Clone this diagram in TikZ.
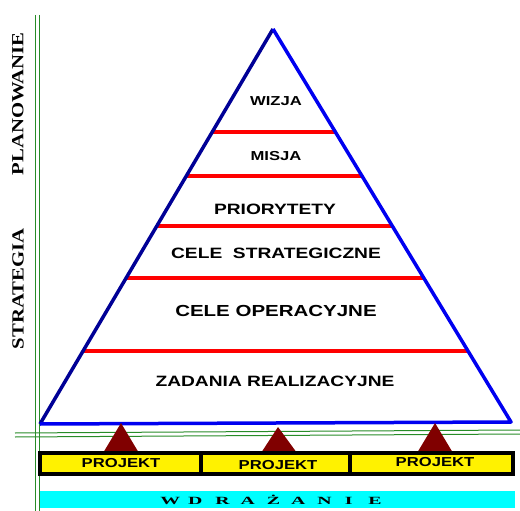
\documentclass[tikz,border=0pt]{standalone}
\usepackage{fontspec}
\setmainfont{Liberation Serif}
\setsansfont{Liberation Sans}
\newfontfamily\widesans[FakeStretch=1.28]{Liberation Sans Bold}
\newfontfamily\wideserif[FakeStretch=1.22]{Liberation Serif Bold}
\newfontfamily\xwideserif[FakeStretch=1.8]{Liberation Serif Bold}
\definecolor{navyb}{RGB}{0,0,150}
\definecolor{blueb}{RGB}{0,0,240}
\definecolor{gr}{RGB}{40,140,40}
\definecolor{mar}{RGB}{128,0,0}
\definecolor{cyanb}{RGB}{0,255,255}
\newcommand{\lv}[1]{\widesans\fontsize{#1}{#1}\selectfont}
\begin{document}
\begin{tikzpicture}[x=1pt,y=-1pt,
  redl/.style={draw=red,line width=3.5pt},
  proj/.style={draw=black,line width=3.5pt,fill=yellow},
  projt/.style={font=\lv{13}},
  tri/.style={fill=mar},
  grl/.style={draw=gr,line width=1pt},
  side/.style={rotate=90,font=\wideserif\fontsize{17}{17}\selectfont}]
\useasboundingbox (0,0) rectangle (520,511);
% green axes
\draw[grl] (35.5,15) -- (35.5,511);
\draw[grl] (39.5,15) -- (39.5,511);
\draw[grl] (15,433) -- (520,430);
\draw[grl] (15,437) -- (520,434);
% left labels
\node[side] (plan) at (18,104) {PLANOWANIE};
\node[side] (strat) at (18,289) {STRATEGIA};
% pyramid
\coordinate (A) at (273,29);
\coordinate (L) at (40,424);
\coordinate (R) at (511,422);
% red lines
\foreach \y in {132,176,226,278,351}{
  \pgfmathsetmacro{\xl}{273-(\y-29)/395*233}
  \pgfmathsetmacro{\xr}{273+(\y-29)/393*238}
  \draw[redl] (\xl,\y) -- (\xr,\y);
}
\draw[navyb,line width=3.5pt,line join=round] (L) -- (A);
\draw[blueb,line width=3.5pt,line join=round] (A) -- (R) -- (L);
\node[font=\lv{13}] (wizja) at (276,101) {WIZJA};
\node[font=\lv{13}] (misja) at (276,156) {MISJA};
\node[font=\lv{15}] (prio) at (275,209) {PRIORYTETY};
\node[font=\lv{15}] (cs) at (276,253) {CELE\ \ STRATEGICZNE};
\node[font=\lv{16}] (co) at (276,311) {CELE OPERACYJNE};
\node[font=\lv{15}] (zr) at (275,381) {ZADANIA REALIZACYJNE};
% maroon triangles
\fill[tri] (121,423) -- (139,453) -- (103,453) -- cycle;
\fill[tri] (278,427) -- (297,453) -- (261,453) -- cycle;
\fill[tri] (435,423) -- (453,453) -- (417,453) -- cycle;
% project boxes
\draw[proj] (40,453) rectangle (201,474);
\draw[proj] (201,453) rectangle (350,474);
\draw[proj] (350,453) rectangle (513,474);
\node[projt] (p1) at (121,463) {PROJEKT};
\node[projt] (p2) at (278,465) {PROJEKT};
\node[projt] (p3) at (435,462) {PROJEKT};
% cyan bar
\fill[cyanb] (40,491) rectangle (515,508);
\node[font=\xwideserif\fontsize{11}{11}\selectfont] (wd) at (271,499.5)
  {W\hspace{8pt}D\hspace{13pt}R\hspace{11pt}A\hspace{12pt}Ż\hspace{11pt}A\hspace{12pt}N\hspace{13pt}I\hspace{16pt}E};
\end{tikzpicture}
\end{document}
